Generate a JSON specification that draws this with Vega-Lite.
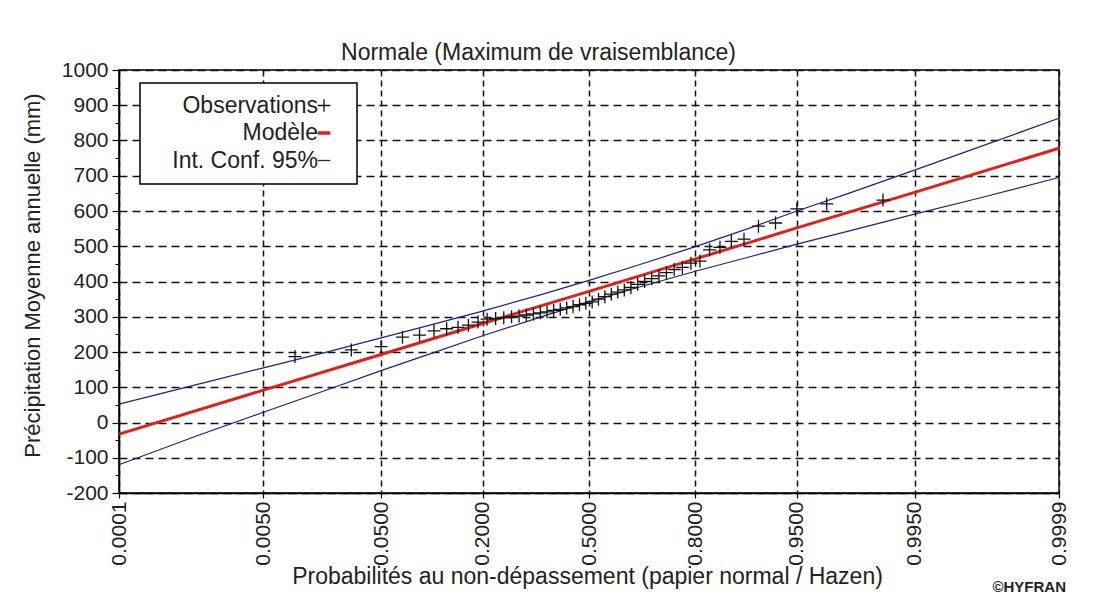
{
  "$schema": "https://vega.github.io/schema/vega-lite/v6.json",
  "width": 940,
  "height": 423,
  "autosize": {"type": "none"},
  "padding": {"left": 119, "top": 70, "right": 40, "bottom": 103},
  "background": "#ffffff",
  "title": {"text": "©HYFRAN", "orient": "bottom", "anchor": "end", "frame": "group", "fontSize": 15, "fontWeight": "bold", "color": "#222222", "dx": 7, "offset": -8},
  "config": {
    "font": "Liberation Sans",
    "view": {"stroke": "#000000", "strokeWidth": 1.5}
  },
  "datasets": {
    "obs": [
      {"series": "Observations", "p": 0.01, "value": 187},
      {"series": "Observations", "p": 0.03, "value": 206},
      {"series": "Observations", "p": 0.05, "value": 215},
      {"series": "Observations", "p": 0.07, "value": 242},
      {"series": "Observations", "p": 0.09, "value": 248},
      {"series": "Observations", "p": 0.11, "value": 260},
      {"series": "Observations", "p": 0.13, "value": 266},
      {"series": "Observations", "p": 0.15, "value": 270},
      {"series": "Observations", "p": 0.17, "value": 276},
      {"series": "Observations", "p": 0.19, "value": 285},
      {"series": "Observations", "p": 0.21, "value": 293},
      {"series": "Observations", "p": 0.23, "value": 295},
      {"series": "Observations", "p": 0.25, "value": 297},
      {"series": "Observations", "p": 0.27, "value": 300},
      {"series": "Observations", "p": 0.29, "value": 302},
      {"series": "Observations", "p": 0.31, "value": 305},
      {"series": "Observations", "p": 0.33, "value": 308},
      {"series": "Observations", "p": 0.35, "value": 311},
      {"series": "Observations", "p": 0.37, "value": 314},
      {"series": "Observations", "p": 0.39, "value": 318},
      {"series": "Observations", "p": 0.41, "value": 321},
      {"series": "Observations", "p": 0.43, "value": 325},
      {"series": "Observations", "p": 0.45, "value": 329},
      {"series": "Observations", "p": 0.47, "value": 334},
      {"series": "Observations", "p": 0.49, "value": 338},
      {"series": "Observations", "p": 0.51, "value": 342},
      {"series": "Observations", "p": 0.53, "value": 350},
      {"series": "Observations", "p": 0.55, "value": 357},
      {"series": "Observations", "p": 0.57, "value": 364},
      {"series": "Observations", "p": 0.59, "value": 370},
      {"series": "Observations", "p": 0.61, "value": 376},
      {"series": "Observations", "p": 0.63, "value": 383},
      {"series": "Observations", "p": 0.65, "value": 392},
      {"series": "Observations", "p": 0.67, "value": 400},
      {"series": "Observations", "p": 0.69, "value": 408},
      {"series": "Observations", "p": 0.71, "value": 416},
      {"series": "Observations", "p": 0.73, "value": 425},
      {"series": "Observations", "p": 0.75, "value": 434},
      {"series": "Observations", "p": 0.77, "value": 440},
      {"series": "Observations", "p": 0.79, "value": 452},
      {"series": "Observations", "p": 0.81, "value": 458},
      {"series": "Observations", "p": 0.83, "value": 490},
      {"series": "Observations", "p": 0.85, "value": 497},
      {"series": "Observations", "p": 0.87, "value": 514},
      {"series": "Observations", "p": 0.89, "value": 520},
      {"series": "Observations", "p": 0.91, "value": 557},
      {"series": "Observations", "p": 0.93, "value": 566},
      {"series": "Observations", "p": 0.95, "value": 606},
      {"series": "Observations", "p": 0.97, "value": 620},
      {"series": "Observations", "p": 0.99, "value": 631}
    ],
    "model": [
      {"series": "Modèle", "p": 0.0001, "value": -33},
      {"series": "Modèle", "p": 0.005, "value": 92},
      {"series": "Modèle", "p": 0.05, "value": 193},
      {"series": "Modèle", "p": 0.2, "value": 281},
      {"series": "Modèle", "p": 0.5, "value": 372},
      {"series": "Modèle", "p": 0.8, "value": 464},
      {"series": "Modèle", "p": 0.95, "value": 552},
      {"series": "Modèle", "p": 0.995, "value": 653},
      {"series": "Modèle", "p": 0.9999, "value": 778}
    ],
    "ci": [
      {"series": "Int. Conf. 95%", "p": 0.0001, "upper": 52, "lower": -120},
      {"series": "Int. Conf. 95%", "p": 0.001, "upper": 109, "lower": -36},
      {"series": "Int. Conf. 95%", "p": 0.005, "upper": 155, "lower": 29},
      {"series": "Int. Conf. 95%", "p": 0.02, "upper": 202, "lower": 95},
      {"series": "Int. Conf. 95%", "p": 0.05, "upper": 240, "lower": 147},
      {"series": "Int. Conf. 95%", "p": 0.1, "upper": 274, "lower": 192},
      {"series": "Int. Conf. 95%", "p": 0.2, "upper": 316, "lower": 246},
      {"series": "Int. Conf. 95%", "p": 0.35, "upper": 362, "lower": 299},
      {"series": "Int. Conf. 95%", "p": 0.5, "upper": 403, "lower": 342},
      {"series": "Int. Conf. 95%", "p": 0.65, "upper": 446, "lower": 383},
      {"series": "Int. Conf. 95%", "p": 0.8, "upper": 499, "lower": 429},
      {"series": "Int. Conf. 95%", "p": 0.9, "upper": 553, "lower": 471},
      {"series": "Int. Conf. 95%", "p": 0.95, "upper": 600, "lower": 506},
      {"series": "Int. Conf. 95%", "p": 0.98, "upper": 650, "lower": 543},
      {"series": "Int. Conf. 95%", "p": 0.995, "upper": 716, "lower": 591},
      {"series": "Int. Conf. 95%", "p": 0.999, "upper": 782, "lower": 637},
      {"series": "Int. Conf. 95%", "p": 0.9999, "upper": 863, "lower": 695}
    ]
  },
  "layer": [
    {
      "data": {"name": "ci"},
      "transform": [
        {"fold": ["upper", "lower"], "as": ["bound", "value"]},
        {"calculate": "quantileNormal(datum.p)", "as": "z"}
      ],
      "mark": {"type": "line", "strokeWidth": 1.2},
      "encoding": {
        "x": {
          "field": "z", "type": "quantitative",
          "scale": {"domain": [-3.719016, 3.719016], "nice": false, "zero": false},
          "axis": {
            "values": [-3.719016, -2.575829, -1.644854, -0.841621, 0, 0.841621, 1.644854, 2.575829, 3.719016],
            "labelExpr": "format(cumulativeNormal(datum.value), '.4f')",
            "labelAngle": 270, "labelFontSize": 21, "labelColor": "#222222", "labelPadding": 3,
            "labelFlush": false, "labelOverlap": false, "labelBound": false,
            "tickSize": 5, "tickColor": "#000000", "tickWidth": 1.2,
            "domainColor": "#000000", "domainWidth": 1.5,
            "grid": true, "gridDash": [6, 4], "gridColor": "#111111", "gridWidth": 1.5,
            "title": "Probabilités au non-dépassement (papier normal / Hazen)",
            "titleFontSize": 23, "titleFontWeight": "normal", "titleColor": "#222222",
            "titleBaseline": "alphabetic", "titleX": 468, "titleY": 90
          }
        },
        "y": {
          "field": "value", "type": "quantitative",
          "scale": {"domain": [-200, 1000], "nice": false, "zero": false},
          "axis": {
            "values": [-200, -100, 0, 100, 200, 300, 400, 500, 600, 700, 800, 900, 1000],
            "labelExpr": "'' + datum.value",
            "labelFontSize": 21, "labelColor": "#222222", "labelPadding": 4, "labelFlush": false,
            "tickSize": 7, "tickColor": "#000000", "tickWidth": 1.2,
            "domainColor": "#000000", "domainWidth": 1.5,
            "grid": true, "gridDash": [8, 5], "gridColor": "#111111", "gridWidth": 1.5,
            "title": "Précipitation Moyenne annuelle (mm)",
            "titleFontSize": 22, "titleFontWeight": "normal", "titleColor": "#222222",
            "titleBaseline": "alphabetic", "titleX": -80, "titleY": 205
          }
        },
        "color": {
          "field": "series", "type": "nominal",
          "scale": {"domain": ["Observations", "Modèle", "Int. Conf. 95%"], "range": ["#111111", "#e0201b", "#202080"]},
          "legend": {
            "title": " ", "titleOrient": "right", "titleFontSize": 23, "titlePadding": 9,
            "orient": "none", "legendX": 21, "legendY": 13,
            "fillColor": "#ffffff", "strokeColor": "#000000", "padding": 11, "rowPadding": 3.5,
            "labelFontSize": 23, "labelColor": "#222222", "labelAlign": "right", "labelOffset": 144, "labelLimit": 400,
            "symbolSize": 160, "symbolStrokeWidth": 1.3,
            "encode": {
              "symbols": {"update": {
                "x": {"value": 173},
                "shape": {"signal": "datum.value === 'Observations' ? 'M-1,0H1M0,-1V1' : 'M-1,0H1'"},
                "strokeWidth": {"signal": "datum.value === 'Modèle' ? 3.5 : 1.3"},
                "fill": {"value": "transparent"},
                "stroke": {"signal": "scale('color', datum.value)"},
                "opacity": {"value": 1}
              }},
              "legend": {"update": {"strokeWidth": {"value": 1.5}}}
            }
          }
        },
        "detail": {"field": "bound", "type": "nominal"}
      }
    },
    {
      "data": {"name": "model"},
      "transform": [{"calculate": "quantileNormal(datum.p)", "as": "z"}],
      "mark": {"type": "line", "strokeWidth": 3},
      "encoding": {
        "x": {"field": "z", "type": "quantitative", "scale": {"domain": [-3.719016, 3.719016], "nice": false, "zero": false}, "axis": null},
        "y": {
          "field": "value", "type": "quantitative",
          "scale": {"domain": [-200, 1000], "nice": false, "zero": false},
          "axis": {
            "orient": "left",
            "values": [-150, -50, 50, 150, 250, 350, 450, 550, 650, 750, 850, 950],
            "labels": false, "domain": false, "grid": false, "ticks": true,
            "tickSize": 4, "tickColor": "#000000", "tickWidth": 1, "title": null
          }
        },
        "color": {"field": "series", "type": "nominal"}
      }
    },
    {
      "data": {"name": "obs"},
      "transform": [{"calculate": "quantileNormal(datum.p)", "as": "z"}],
      "mark": {"type": "point", "shape": "M-1,0H1M0,-1V1", "filled": false, "size": 169, "strokeWidth": 1.3, "opacity": 1},
      "encoding": {
        "x": {
          "field": "z", "type": "quantitative",
          "scale": {"domain": [-3.719016, 3.719016], "nice": false, "zero": false},
          "axis": {
            "orient": "top", "title": "Normale (Maximum de vraisemblance)",
            "labels": false, "ticks": false, "domain": false, "grid": false,
            "titleFontSize": 23, "titleFontWeight": "normal", "titleColor": "#222222",
            "titleBaseline": "alphabetic", "titleX": 419, "titleY": -11
          }
        },
        "y": {"field": "value", "type": "quantitative", "scale": {"domain": [-200, 1000], "nice": false, "zero": false}, "axis": null},
        "color": {"field": "series", "type": "nominal"}
      }
    }
  ],
  "resolve": {"axis": {"x": "independent", "y": "independent"}}
}
